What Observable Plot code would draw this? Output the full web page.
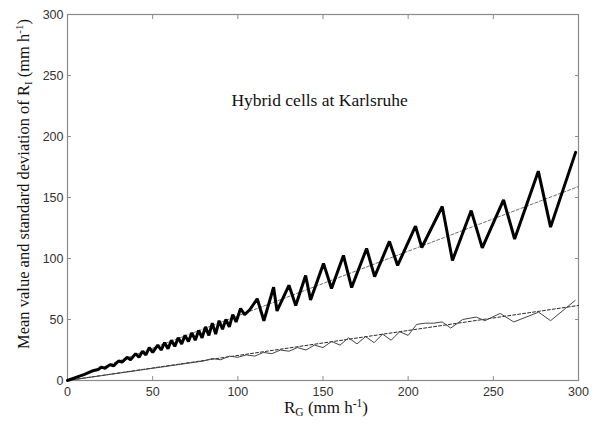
<!DOCTYPE html>
<html>
<head>
<meta charset="utf-8">
<script src="https://cdn.jsdelivr.net/npm/d3@7"></script>
<script src="https://cdn.jsdelivr.net/npm/@observablehq/plot@0.6"></script>
<style>
  body { margin: 0; background: #fff; }
  svg { display: block; }
</style>
</head>
<body>
<script>
// Mean value of R_I (thick zigzag line)
const meanX = [0, 5, 10, 15, 18, 20, 22, 25, 27, 30, 32, 35, 37, 40, 42, 44, 46, 48, 50, 53, 55, 57, 59, 61, 63, 65, 67, 69, 71, 73, 75, 77, 79, 81, 83, 85, 87, 89, 91, 93, 95, 97, 99, 101.6, 104, 107, 111.4, 115.3, 121, 123, 130, 134, 139.8, 142.7, 150.3, 155, 162, 166.8, 175.6, 180.3, 189, 193.8, 204.3, 208, 220, 226, 237, 243.5, 256, 262.5, 276.4, 283.6, 298.3];
const meanY = [0, 2.5, 5, 8, 9, 11, 10, 13, 12, 16, 15, 19, 17, 22, 19, 24, 21, 27, 23, 29, 25, 31, 26, 33, 28, 35, 30, 37, 32, 39, 33, 41, 35, 44, 37, 47, 38, 49, 42, 50, 44, 54, 48, 59, 54, 58, 67, 49, 76.5, 57, 78, 61.5, 86, 66, 96, 75.4, 102.5, 76.2, 108.2, 85.2, 114, 94.3, 126.5, 109, 142.6, 98.4, 139.3, 108.7, 148, 116, 171.6, 125.7, 187];

// Standard deviation of R_I (thin line)
const stdX = [0, 10, 20, 30, 40, 50, 60, 70, 80, 85, 90, 95, 100, 105, 110, 115, 120, 125, 130, 135, 140, 145, 150, 155, 160, 165, 170, 175, 180, 185, 190, 195, 200, 205, 210, 215, 220, 225, 232, 240, 245, 254, 262, 276.6, 283.6, 298];
const stdY = [0, 2, 4, 6, 8, 10, 12, 14, 16, 18, 17, 20, 19, 21, 20, 23, 22, 25, 24, 27, 25, 29, 27, 32, 29, 35, 30, 36, 31, 38, 33, 40, 37, 46, 47, 47, 48, 43, 50, 52, 49, 55, 48, 56, 49, 65.6];

// Linear fits (dashed)
const fitX = [0, 300];
const meanFitY = [0, 159];
const stdFitY = [0, 61.5];

const xTicks = [0, 50, 100, 150, 200, 250, 300];
const yTicks = [0, 50, 100, 150, 200, 250, 300];
const annotation = ["Hybrid cells at Karlsruhe"];

const meanData = meanX.map((x, i) => ({x, y: meanY[i]}));
const stdData = stdX.map((x, i) => ({x, y: stdY[i]}));
const meanFit = fitX.map((x, i) => ({x, y: meanFitY[i]}));
const stdFit = fitX.map((x, i) => ({x, y: stdFitY[i]}));

const tickFont = {fontFamily: "Liberation Sans, Arial, sans-serif", fontSize: 12.5};

const svg = Plot.plot({
  width: 599,
  height: 432,
  marginLeft: 67,
  marginRight: 21,
  marginTop: 14,
  marginBottom: 52,
  style: {background: "#fff", color: "#333", fontFamily: "Liberation Sans, Arial, sans-serif", fontSize: "12.5px"},
  x: {domain: [0, 300], label: null},
  y: {domain: [0, 300], label: null},
  marks: [
    Plot.frame({stroke: "#8a8a8a", strokeWidth: 1.2}),
    // inward ticks on all four sides
    Plot.axisX({anchor: "bottom", ticks: xTicks, tickSize: -4, fill: "none", label: null, stroke: "#8a8a8a"}),
    Plot.axisX({anchor: "top", ticks: xTicks, tickSize: -4, fill: "none", label: null, stroke: "#8a8a8a"}),
    Plot.axisY({anchor: "left", ticks: yTicks, tickSize: -4, fill: "none", label: null, stroke: "#8a8a8a"}),
    Plot.axisY({anchor: "right", ticks: yTicks, tickSize: -4, fill: "none", label: null, stroke: "#8a8a8a"}),
    // tick labels
    Plot.axisX({anchor: "bottom", ticks: xTicks, tickSize: 0, tickPadding: 7, label: null, fill: "#333", ...tickFont}),
    Plot.axisY({anchor: "left", ticks: yTicks, tickSize: 0, tickPadding: 4, label: null, fill: "#333", ...tickFont}),
    // dashed fits
    Plot.line(meanFit, {x: "x", y: "y", stroke: "#6e6e6e", strokeWidth: 1, strokeDasharray: "3,2"}),
    Plot.line(stdFit, {x: "x", y: "y", stroke: "#2a2a2a", strokeWidth: 1, strokeDasharray: "3,2"}),
    // series
    Plot.line(stdData, {x: "x", y: "y", stroke: "#444", strokeWidth: 1}),
    Plot.line(meanData, {x: "x", y: "y", stroke: "#000", strokeWidth: 3, strokeLinejoin: "miter"}),
    Plot.text(annotation, {x: () => 148, y: () => 230, text: d => d, fontFamily: "Liberation Serif, Times New Roman, serif", fontSize: 17.5, fill: "#111"})
  ]
});

const s = d3.select(svg);
const serif = "Liberation Serif, Times New Roman, serif";

// x-axis label: R_G (mm h^-1)
const xl = s.append("text")
  .attr("x", 326).attr("y", 413)
  .attr("text-anchor", "middle")
  .attr("font-family", serif).attr("font-size", 17).attr("fill", "#111");
xl.append("tspan").text("R");
xl.append("tspan").attr("font-size", 11.5).attr("dy", 3).text("G");
xl.append("tspan").attr("dy", -3).text(" (mm h");
xl.append("tspan").attr("font-size", 11.5).attr("dy", -6).text("-1");
xl.append("tspan").attr("dy", 6).text(")");

// y-axis label
const yl = s.append("text")
  .attr("transform", "translate(29,184) rotate(-90)")
  .attr("text-anchor", "middle")
  .attr("font-family", serif).attr("font-size", 16.5).attr("fill", "#111");
yl.append("tspan").text("Mean value and standard deviation of R");
yl.append("tspan").attr("font-size", 11).attr("dy", 3).text("I");
yl.append("tspan").attr("dy", -3).text(" (mm h");
yl.append("tspan").attr("font-size", 11).attr("dy", -6).text("-1");
yl.append("tspan").attr("dy", 6).text(")");

document.body.append(svg);
</script>
</body>
</html>
